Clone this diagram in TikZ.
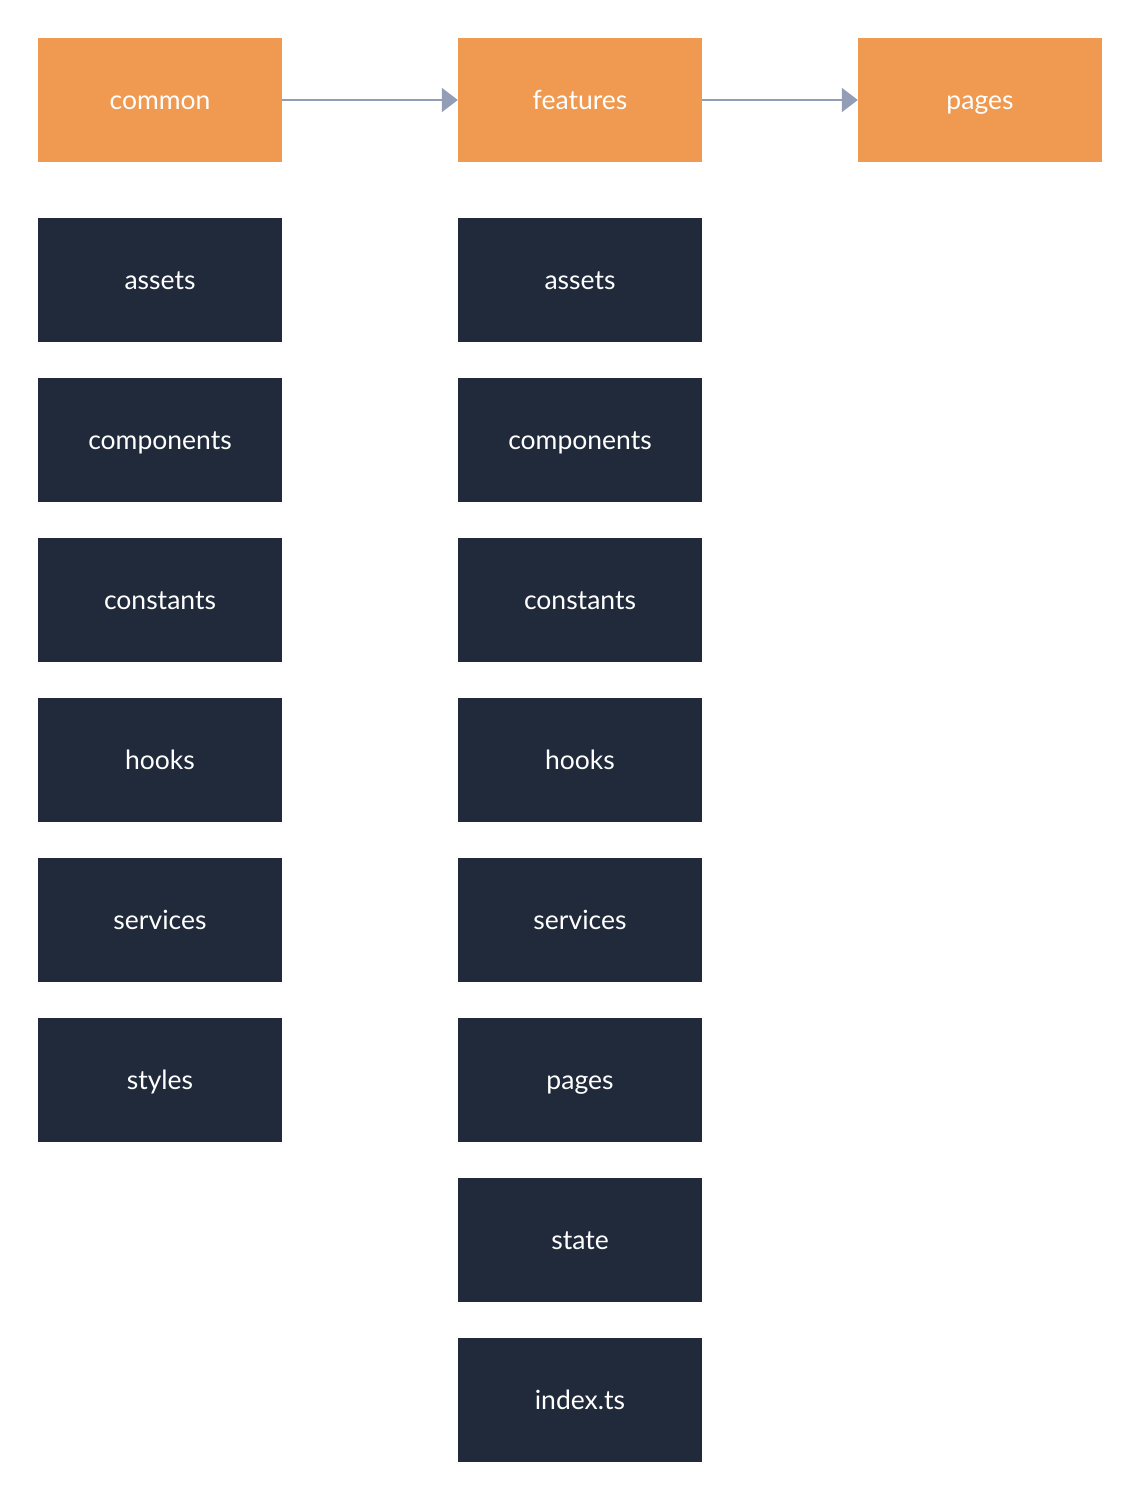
\documentclass[tikz,border=0pt]{standalone}
\usepackage{fontspec}
\setmainfont{Lato}
\usetikzlibrary{arrows.meta}
\definecolor{boxorange}{HTML}{EF9A50}
\definecolor{boxdark}{HTML}{202A3B}
\definecolor{linkgrey}{HTML}{919EB5}
\tikzset{
  folder/.style={fill=boxdark, text=white, minimum width=244pt, minimum height=124pt, inner sep=0pt,
    text height=19pt, text depth=0pt, font=\fontsize{26.5}{30}\selectfont},
  layer/.style={folder, fill=boxorange},
  link/.style={draw=linkgrey, line width=2pt, -{Triangle[length=16pt,width=24pt]}}
}
\begin{document}
\begin{tikzpicture}[x=1pt, y=-1pt]
\useasboundingbox (0,0) rectangle (1140,1500);
\fill[white] (0,0) rectangle (1140,1500);
\node[layer] (common) at (160,100) {common};
\node[layer] (features) at (580,100) {features};
\node[layer] (pages) at (980,100) {pages};
\draw[link] (common.east)--(features.west);
\draw[link] (features.east)--(pages.west);
% common folders
\foreach \name [count=\i] in {assets,components,constants,hooks,services,styles}
  \node[folder] (c-\name) at (160,{120+160*\i}) {\name};
% features folders
\foreach \name [count=\i] in {assets,components,constants,hooks,services,pages,state,index.ts}
  \node[folder] (f-\i) at (580,{120+160*\i}) {\name};
\end{tikzpicture}
\end{document}
